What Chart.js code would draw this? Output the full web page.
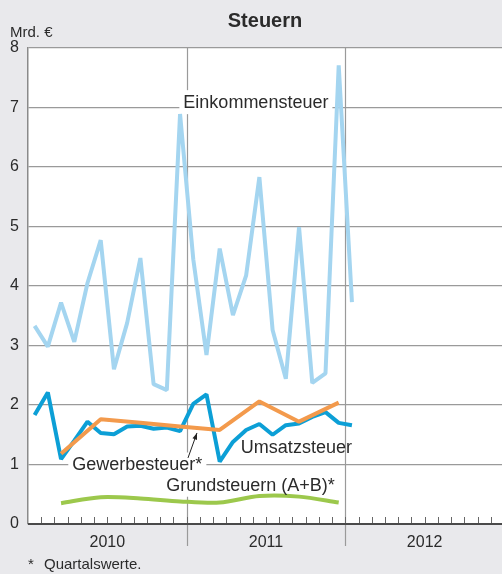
<!DOCTYPE html>
<html>
<head>
<meta charset="utf-8">
<script src="https://cdn.jsdelivr.net/npm/chart.js@4/dist/chart.umd.min.js"></script>
<style>
  html, body { margin: 0; padding: 0; background: #e9e9ec; }
  #wrap { width: 502px; height: 574px; position: relative; }
</style>
</head>
<body>
<div id="wrap"><canvas id="chart"></canvas></div>
<script>
// Monatswerte Jan 2010 - Jan 2012, Quartalswerte Q1 2010 - Q4 2011 (Mrd. €)
const years = ['2010', '2011', '2012'];
const einkommensteuer = [3.33, 2.98, 3.72, 3.06, 4.05, 4.77, 2.60, 3.38, 4.47, 2.35, 2.25, 6.89,
  4.45, 2.84, 4.63, 3.51, 4.18, 5.83, 3.26, 2.44, 4.99, 2.37, 2.53, 7.71, 3.73];
const umsatzsteuer = [1.83, 2.21, 1.09, 1.40, 1.72, 1.53, 1.51, 1.64, 1.65, 1.60, 1.62, 1.56,
  2.02, 2.18, 1.05, 1.38, 1.58, 1.68, 1.50, 1.66, 1.69, 1.80, 1.88, 1.70, 1.66];
const gewerbesteuer = [1.18, 1.76, 1.70, 1.64, 1.58, 2.06, 1.72, 2.04];
const grundsteuern = [0.35, 0.45, 0.43, 0.38, 0.36, 0.47, 0.46, 0.36];

const font = '"Liberation Sans", Arial, sans-serif';
const textColor = '#2b2b2b';

// Monat i -> Mitte des Monats; Quartal q -> Mitte des letzten Quartalsmonats
const monthly = arr => arr.map((v, i) => ({ x: i + 0.5, y: v }));
const quarterly = arr => arr.map((v, q) => ({ x: q * 3 + 2.5, y: v }));

// Beschriftungen in Datenkoordinaten
const labels = [
  { text: 'Einkommensteuer', x: 11.75, y: 7.09, box: true },
  { text: 'Umsatzsteuer', x: 16.1, y: 1.29, box: false },
  { text: 'Gewerbesteuer*', x: 3.35, y: 1.0, box: true },
  { text: 'Grundsteuern (A+B)*', x: 10.45, y: 0.66, box: true },
];

const decorPlugin = {
  id: 'decor',
  beforeDraw(chart) {
    const { ctx, chartArea: a } = chart;
    ctx.save();
    ctx.fillStyle = '#e9e9ec';
    ctx.fillRect(0, 0, chart.width, chart.height);
    ctx.fillStyle = '#ffffff';
    ctx.fillRect(a.left, a.top, a.right - a.left, a.bottom - a.top);
    ctx.restore();
  },
  beforeDatasetsDraw(chart) {
    const { ctx, chartArea: a, scales: { x, y } } = chart;
    ctx.save();
    ctx.strokeStyle = '#9a9a9a';
    ctx.lineWidth = 1.2;
    [12, 24].forEach(m => {
      const px = Math.round(x.getPixelForValue(m)) + 0.5;
      ctx.beginPath();
      ctx.moveTo(px, a.top);
      ctx.lineTo(px, a.bottom + 22);
      ctx.stroke();
    });
    // weisse Kästen hinter den Beschriftungen (unter den Linien)
    ctx.font = '18px ' + font;
    ctx.fillStyle = '#ffffff';
    labels.filter(l => l.box).forEach(l => {
      const px = x.getPixelForValue(l.x);
      const py = y.getPixelForValue(l.y);
      const w = ctx.measureText(l.text).width;
      ctx.fillRect(px - 4, py - 12, w + 8, 24);
    });
    ctx.restore();
  },
  afterDatasetsDraw(chart) {
    const { ctx, chartArea: a, scales: { x, y } } = chart;
    ctx.save();
    ctx.font = '18px ' + font;
    ctx.textBaseline = 'middle';
    ctx.fillStyle = textColor;
    labels.forEach(l => {
      ctx.fillText(l.text, x.getPixelForValue(l.x), y.getPixelForValue(l.y) + 1);
    });
    // Pfeil zur Gewerbesteuer
    const x0 = x.getPixelForValue(12.1), y0 = y.getPixelForValue(1.11);
    const x1 = x.getPixelForValue(12.78), y1 = y.getPixelForValue(1.53);
    const ang = Math.atan2(y1 - y0, x1 - x0);
    ctx.strokeStyle = '#222';
    ctx.fillStyle = '#222';
    ctx.lineWidth = 1;
    ctx.beginPath();
    ctx.moveTo(x0, y0);
    ctx.lineTo(x1, y1);
    ctx.stroke();
    ctx.beginPath();
    ctx.moveTo(x1, y1);
    ctx.lineTo(x1 - 7 * Math.cos(ang - 0.35), y1 - 7 * Math.sin(ang - 0.35));
    ctx.lineTo(x1 - 7 * Math.cos(ang + 0.35), y1 - 7 * Math.sin(ang + 0.35));
    ctx.closePath();
    ctx.fill();

    // Monatsstriche an der x-Achse
    ctx.strokeStyle = '#666';
    ctx.lineWidth = 1;
    for (let m = 1; m < 36; m++) {
      const px = Math.round(x.getPixelForValue(m)) + 0.5;
      if (px > a.right) break;
      ctx.beginPath();
      ctx.moveTo(px, a.bottom);
      ctx.lineTo(px, a.bottom - 7);
      ctx.stroke();
    }
    ctx.strokeStyle = '#4a4a4a';
    ctx.lineWidth = 2;
    ctx.beginPath();
    ctx.moveTo(a.left, a.bottom);
    ctx.lineTo(a.right, a.bottom);
    ctx.stroke();

    // Titel, Einheit, Fussnote
    ctx.fillStyle = textColor;
    ctx.textBaseline = 'alphabetic';
    ctx.font = 'bold 20px ' + font;
    ctx.textAlign = 'center';
    ctx.fillText('Steuern', (a.left + a.right) / 2, 27);
    ctx.textAlign = 'left';
    ctx.font = '15px ' + font;
    ctx.fillText('Mrd. €', 10, 37);
    ctx.fillText('*', 28, 569);
    ctx.fillText('Quartalswerte.', 44, 569);
    ctx.restore();
  }
};

const line = (label, data, color, tension) => ({
  label, data,
  borderColor: color,
  borderWidth: 4,
  borderJoinStyle: 'bevel',
  pointRadius: 0,
  tension: tension || 0,
  fill: false,
});

new Chart(document.getElementById('chart'), {
  type: 'line',
  data: {
    datasets: [
      line('Gewerbesteuer', quarterly(gewerbesteuer), '#f39a4c'),
      line('Umsatzsteuer', monthly(umsatzsteuer), '#0c9fd6'),
      line('Grundsteuern (A+B)', quarterly(grundsteuern), '#9cc84c', 0.3),
      line('Einkommensteuer', monthly(einkommensteuer), '#a4d5f0'),
    ],
  },
  options: {
    responsive: true,
    maintainAspectRatio: false,
    animation: false,
    layout: { padding: { top: 48, right: 0, left: 0, bottom: 0 } },
    plugins: {
      legend: { display: false },
      title: { display: false },
      tooltip: { enabled: false },
    },
    scales: {
      x: {
        type: 'linear',
        min: 0,
        max: 35.85,
        afterBuildTicks(scale) {
          scale.ticks = [6, 18, 30].map(v => ({ value: v }));
        },
        afterFit(scale) { scale.height = 50; },
        grid: { display: false, drawTicks: false },
        border: { display: false },
        ticks: {
          autoSkip: false,
          maxRotation: 0,
          padding: 9,
          color: textColor,
          font: { family: font, size: 16 },
          callback: (v) => years[Math.round((v - 6) / 12)],
        },
      },
      y: {
        min: 0,
        max: 8,
        afterFit(scale) { scale.width = 28; },
        grid: { color: '#9a9a9a', lineWidth: 1.2, drawTicks: false },
        border: { color: '#8a8a8a', width: 1.5 },
        ticks: {
          stepSize: 1,
          padding: 9,
          color: textColor,
          font: { family: font, size: 16 },
        },
      },
    },
  },
  plugins: [decorPlugin],
});
</script>
</body>
</html>
